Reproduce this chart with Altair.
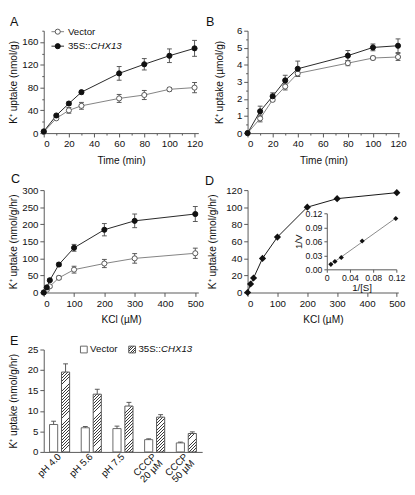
import altair as alt
import pandas as pd

FONT = "Liberation Sans"
ERR = "#555555"

# ---------------- data ----------------
a_time = [0, 10, 20, 30, 60, 80, 100, 120]
a_vec = [2, 26, 40, 48, 61, 67, 77, 80]
a_vec_err = [0, 2, 5, 6, 7, 8, 3, 9]
a_chx = [3, 31, 52, 72, 105, 121, 136, 149]
a_chx_err = [0, 2, 3, 3, 12, 10, 12, 14]

b_time = [0, 10, 20, 30, 40, 80, 100, 120]
b_vec = [0, 0.86, 1.95, 2.73, 3.5, 4.1, 4.4, 4.46]
b_vec_err = [0, 0.2, 0.1, 0.2, 0.15, 0.15, 0.1, 0.2]
b_chx = [0, 1.28, 2.16, 3.09, 3.77, 4.54, 5.02, 5.12]
b_chx_err = [0, 0.3, 0.2, 0.3, 0.45, 0.3, 0.2, 0.4]

c_kcl = [0, 10, 20, 50, 100, 200, 300, 500]
c_vec = [0, 8, 18, 43, 67, 85, 100, 115]
c_vec_err = [0, 2, 3, 5, 10, 12, 14, 15]
c_chx = [0, 15, 36, 82, 131, 184, 210, 230]
c_chx_err = [0, 3, 4, 5, 10, 18, 20, 22]

d_kcl = [0, 10, 20, 50, 100, 200, 300, 500]
d_val = [0, 10, 17, 40, 65, 100, 110, 117]
inset_s = [0.007, 0.014, 0.025, 0.061, 0.119]
inset_v = [0.0107, 0.0167, 0.0253, 0.0607, 0.109]

e_cond = ["pH 4.0", "pH 5.6", "pH 7.5", "CCCP\n20 µM", "CCCP\n50 µM"]
e_vec = [6.7, 5.9, 5.7, 3.0, 2.2]
e_vec_err = [0.8, 0.3, 0.6, 0.2, 0.2]
e_chx = [19.5, 14.1, 11.2, 8.5, 4.5]
e_chx_err = [2.0, 1.2, 0.9, 0.6, 0.4]

groups = ["Vector", "35S::CHX13"]
legend_text = ["Vector", "35S::", "CHX13"]
panel_letters = ["A", "B", "C", "D", "E"]

# ---------------- layout ----------------
A_W, B_W, C_W, D_W, E_W = 160, 157, 160, 156, 164
H = 106
YT_A = "K\u207a uptake (nmol/g)"
YT_B = "K\u207a uptake (\u00b5mol/g)"
YT_C = "K\u207a uptake (nmol/g/hr)"

ldf = pd.DataFrame({"lab": panel_letters})


def letter(t, dx, dy):
    return alt.Chart(ldf).transform_filter(alt.datum.lab == t).mark_text(
        align="left", baseline="middle", fontSize=13, font=FONT, color="#111").encode(
        x=alt.value(dx), y=alt.value(dy), text="lab:N")


def minor_axis(vals, major, title, **kw):
    d = dict(values=vals, title=title,
             labelExpr=f"({major}) ? format(datum.value, '~g') : ''",
             tickSize={"condition": {"test": major, "value": 4}, "value": 2})
    d.update(kw)
    return alt.Axis(**d)


def line_panel(xs, series, X_kw, Y_kw):
    errs, lines, pts = [], [], []
    for name, vals, ev, lc, pf, ps in series:
        df = pd.DataFrame({"x": xs, "v": vals, "e": ev})
        base = alt.Chart(df)
        X = alt.X("x:Q", **X_kw)
        eb = base.transform_filter("datum.e > 0").transform_calculate(
            lo="datum.v - datum.e", hi="datum.v + datum.e")
        errs.append(eb.mark_rule(color=ERR, strokeWidth=1).encode(
            x=X, y=alt.Y("lo:Q", **Y_kw), y2="hi:Q"))
        for f in ["lo", "hi"]:
            errs.append(eb.mark_tick(orient="horizontal", size=5, thickness=1,
                                     color=ERR, opacity=1).encode(
                x=X, y=alt.Y(f"{f}:Q", **Y_kw)))
        lines.append(base.mark_line(color=lc, strokeWidth=1).encode(
            x=X, y=alt.Y("v:Q", **Y_kw)))
        pts.append(base.mark_point(shape="circle", filled=True, fill=pf, stroke=ps,
                                   strokeWidth=1, size=28, opacity=1).encode(
            x=X, y=alt.Y("v:Q", **Y_kw)))
    return errs + lines + pts


def series2(vec, vec_e, chx, chx_e):
    return [("Vector", vec, vec_e, "#808080", "white", "#555555"),
            ("35S::CHX13", chx, chx_e, "#222222", "#111111", "#111111")]


# ---------------- panel A ----------------
A_X = dict(scale=alt.Scale(domain=[0, 123], nice=False),
           axis=minor_axis(list(range(0, 121, 10)), "datum.value % 20 === 0", "Time (min)"))
A_Y = dict(scale=alt.Scale(domain=[0, 180], nice=False),
           axis=minor_axis(list(range(0, 181, 20)),
                           "datum.value % 40 === 0 && datum.value < 170", YT_A))
a_layers = line_panel(a_time, series2(a_vec, a_vec_err, a_chx, a_chx_err), A_X, A_Y)

one = pd.DataFrame({"lab": [legend_text[0]]})
tdf = pd.DataFrame({"lab": legend_text})
leg = []
for i, (lc, pf, ps) in enumerate([("#808080", "white", "#555555"),
                                  ("#222222", "#111111", "#111111")]):
    yy = 1 + i * 15
    b = alt.Chart(one)
    leg.append(b.mark_rule(color=lc, strokeWidth=1).encode(
        x=alt.value(8), x2=alt.value(21), y=alt.value(yy)))
    leg.append(b.mark_point(shape="circle", filled=True, fill=pf, stroke=ps,
                            strokeWidth=1, size=28, opacity=1).encode(
        x=alt.value(14.5), y=alt.value(yy)))
for lab, xx, yy, style in [("Vector", 25, 1, "normal"), ("35S::", 25, 16, "normal"),
                           ("CHX13", 48.4, 16, "italic")]:
    leg.append(alt.Chart(tdf).transform_filter(alt.datum.lab == lab).mark_text(
        align="left", baseline="middle", fontSize=10, font=FONT, fontStyle=style,
        color="#111").encode(x=alt.value(xx), y=alt.value(yy), text="lab:N"))

panelA = alt.layer(*a_layers, *leg, letter("A", -35, -9)).properties(width=A_W, height=H)

# ---------------- panel B ----------------
B_X = dict(scale=alt.Scale(domain=[0, 121], nice=False),
           axis=minor_axis(list(range(0, 121, 10)), "datum.value % 20 === 0", "Time (min)"))
B_Y = dict(scale=alt.Scale(domain=[0, 6], nice=False),
           axis=minor_axis([x / 2 for x in range(0, 13)], "datum.value % 1 === 0", YT_B,
                           titlePadding=12))
b_layers = line_panel(b_time, series2(b_vec, b_vec_err, b_chx, b_chx_err), B_X, B_Y)
panelB = alt.layer(*b_layers, letter("B", -43, -9)).properties(width=B_W, height=H)

# ---------------- panel C ----------------
C_X = dict(scale=alt.Scale(domain=[0, 510], nice=False),
           axis=alt.Axis(values=list(range(0, 501, 100)), title="KCl (\u00b5M)"))
C_Y = dict(scale=alt.Scale(domain=[0, 300], nice=False),
           axis=alt.Axis(values=list(range(0, 301, 50)), title=YT_C))
c_layers = line_panel(c_kcl, series2(c_vec, c_vec_err, c_chx, c_chx_err), C_X, C_Y)
panelC = alt.layer(*c_layers, letter("C", -34, -11)).properties(width=C_W, height=H)

# ---------------- panel D ----------------
ddf = pd.DataFrame({"x": d_kcl, "v": d_val})
DX = alt.X("x:Q", scale=alt.Scale(domain=[0, 505], nice=False),
           axis=alt.Axis(values=list(range(0, 501, 100)), title="KCl (\u00b5M)"))
DY = alt.Y("v:Q", scale=alt.Scale(domain=[0, 120], nice=False),
           axis=alt.Axis(values=list(range(0, 121, 20)), title=YT_C, titlePadding=8))
d_main = alt.layer(
    alt.Chart(ddf).mark_line(color="#111", strokeWidth=1).encode(x=DX, y=DY),
    alt.Chart(ddf).mark_point(shape="diamond", filled=True, color="#111", size=55,
                              opacity=1).encode(x=DX, y=DY),
    letter("D", -44, -9),
)
idf = pd.DataFrame({"s": inset_s, "v": inset_v})
inset_top, inset_bot = 24, H - 24
IX = alt.X("s:Q", scale=alt.Scale(domain=[0, 0.12], range=[82, 154], nice=False),
           axis=alt.Axis(orient="bottom", offset=-(H - inset_bot), values=[0, 0.04, 0.08, 0.12],
                         labelExpr="datum.value == 0 ? '0' : format(datum.value, '.2f')",
                         labelOverlap=False, labelFlush=False,
                         title="1/[S]", labelFontSize=9, tickSize=3, titlePadding=0,
                         titleFontSize=10))
IY = alt.Y("v:Q", scale=alt.Scale(domain=[0, 0.12], range=[inset_bot, inset_top], nice=False),
           axis=alt.Axis(orient="left", offset=-82, values=[0, 0.03, 0.06, 0.09, 0.12],
                         format=".2f", labelOverlap=False, labelFlush=False,
                         title="1/V", labelFontSize=9, tickSize=3,
                         titlePadding=2, titleFontSize=10))
d_inset = alt.layer(
    alt.Chart(idf).transform_regression("s", "v").mark_line(color="#888", strokeWidth=1).encode(
        x=IX, y=IY),
    alt.Chart(idf).mark_point(shape="diamond", filled=True, color="#111", size=28,
                              opacity=1).encode(x=IX, y=IY),
)
panelD = alt.layer(d_main, d_inset).resolve_scale(x="independent", y="independent").properties(
    width=D_W, height=H)

# ---------------- panel E ----------------
pi, po = 0.2, 0.1
pi2, po2 = 0.32, 0.22
step = E_W / (5 - pi + 2 * po)
bw = step * (1 - pi)
step2 = bw / (2 - pi2 + 2 * po2)
barw = step2 * (1 - pi2)


def hatch(w, h, p=3.2, dark=1.0, col="#3a3a3a", bg="white"):
    L = w + h
    den = w * w + h * h
    x2 = w * L / den
    y2 = h * L / den
    stops = [{"offset": 0, "color": bg}]
    k = 1
    while k * p < L:
        a = k * p / L
        b = min((k * p + dark) / L, 1)
        stops += [{"offset": a, "color": bg}, {"offset": a, "color": col},
                  {"offset": b, "color": col}, {"offset": b, "color": bg}]
        k += 1
    stops.append({"offset": 1, "color": bg})
    return {"gradient": "linear", "x1": 0, "y1": 0, "x2": x2, "y2": y2, "stops": stops}


edf = pd.DataFrame({"cond": e_cond * 2, "grp": [groups[0]] * 5 + [groups[1]] * 5,
                    "v": e_vec + e_chx, "e": e_vec_err + e_chx_err})
EX = alt.X("cond:N", sort=e_cond, title=None,
           scale=alt.Scale(paddingInner=pi, paddingOuter=po),
           axis=alt.Axis(labelAngle=315, labelAlign="right", labelBaseline="middle",
                         labelExpr="split(datum.label, '\\n')", labelLineHeight=9.5,
                         ticks=False, labelPadding=3))
EXO = alt.XOffset("grp:N", scale=alt.Scale(domain=groups, paddingInner=pi2, paddingOuter=po2))
EY_kw = dict(scale=alt.Scale(domain=[0, 25], nice=False),
             axis=alt.Axis(values=list(range(0, 26, 5)), title=YT_C, titlePadding=9))
EY = alt.Y("v:Q", **EY_kw)
ebase = alt.Chart(edf)
e_layers = [ebase.transform_filter(alt.datum.grp == groups[0]).mark_bar(
    fill="white", stroke="#666", strokeWidth=1).encode(x=EX, xOffset=EXO, y=EY)]
for cnd, val in zip(e_cond, e_chx):
    h = val / 25 * H
    e_layers.append(ebase.transform_filter(
        (alt.datum.grp == groups[1]) & (alt.datum.cond == cnd)).mark_bar(
        fill=hatch(barw, h), stroke="#555", strokeWidth=1).encode(x=EX, xOffset=EXO, y=EY))
eerr = ebase.transform_calculate(hi="datum.v + datum.e")
e_layers.append(eerr.mark_rule(color=ERR, strokeWidth=1).encode(
    x=EX, xOffset=EXO, y=alt.Y("v:Q", **EY_kw), y2="hi:Q"))
e_layers.append(eerr.mark_tick(orient="horizontal", size=5, thickness=1, color=ERR,
                               opacity=1).encode(x=EX, xOffset=EXO, y=alt.Y("hi:Q", **EY_kw)))
# legend E
e_layers.append(alt.Chart(one).mark_rect(fill="white", stroke="#666", strokeWidth=1).encode(
    x=alt.value(38), x2=alt.value(45), y=alt.value(-3.5), y2=alt.value(3.5)))
e_layers.append(alt.Chart(one).mark_rect(fill=hatch(7, 7, p=2.6), stroke="#555",
                                         strokeWidth=1).encode(
    x=alt.value(88), x2=alt.value(95), y=alt.value(-3.5), y2=alt.value(3.5)))
for lab, xx, style in [("Vector", 48, "normal"), ("35S::", 98, "normal"), ("CHX13", 121.4, "italic")]:
    e_layers.append(alt.Chart(tdf).transform_filter(alt.datum.lab == lab).mark_text(
        align="left", baseline="middle", fontSize=10, font=FONT, fontStyle=style,
        color="#111").encode(x=alt.value(xx), y=alt.value(0), text="lab:N"))
e_layers.append(letter("E", -35, -9))
panelE = alt.layer(*e_layers).properties(width=E_W, height=H)

# ---------------- assemble ----------------
chart = alt.concat(panelA, panelB, panelC, panelD, panelE, columns=2,
                   spacing={"row": 59, "column": 47}, bounds="flush").properties(
    padding=0
).configure_view(stroke=None).configure_axis(
    grid=False, labelFont=FONT, titleFont=FONT, labelFontSize=10, titleFontSize=10.5,
    titleFontWeight="normal", labelColor="#111", titleColor="#111",
    domainColor="#555", tickColor="#555", domainWidth=1, tickWidth=1,
    labelPadding=2, titlePadding=7, tickSize=4
).configure_axisY(titlePadding=4).configure_text(font=FONT)

chart.save("out.html", embed_options={"renderer": "svg", "actions": False})
